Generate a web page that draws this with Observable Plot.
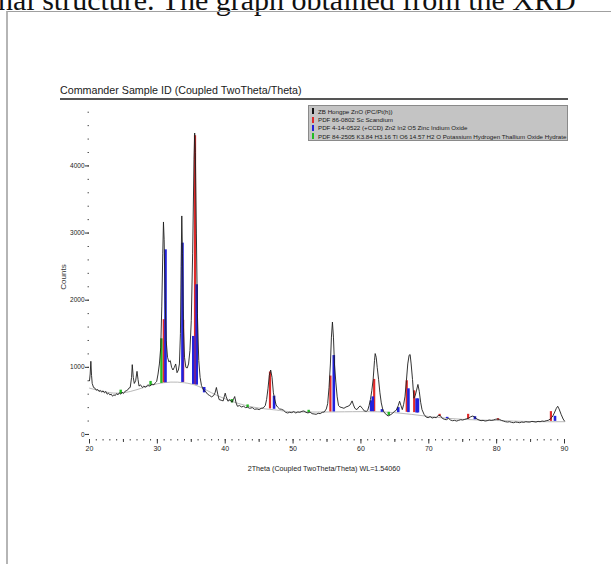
<!DOCTYPE html>
<html>
<head>
<meta charset="utf-8">
<script src="https://cdn.jsdelivr.net/npm/d3@7"></script>
<script src="https://cdn.jsdelivr.net/npm/@observablehq/plot@0.6"></script>
<style>
  html, body { margin: 0; padding: 0; background: #fff; }
  #page { position: relative; width: 611px; height: 564px; overflow: hidden; background: #fff; font-family: "Liberation Sans", Arial, sans-serif; }
  #doctext { position: absolute; left: -2px; top: -15px; font-family: "Liberation Serif", "Times New Roman", serif; font-size: 30px; line-height: 30px; color: #111; white-space: nowrap; }
  #frame { position: absolute; left: 6px; top: 11px; width: 620px; height: 600px; border-left: 2px solid #b5b5b5; border-top: 1px solid #a0a0a0; }
  #title { position: absolute; left: 60px; top: 84px; font-size: 10.7px; color: #1a1a1a; white-space: nowrap; }
  #rule { position: absolute; left: 60px; top: 98px; width: 508px; height: 2px; background: #555; }
  #chart { position: absolute; left: 0; top: 0; }
  #legend { position: absolute; left: 308px; top: 105px; width: 260px; height: 36px; background: #c4c4c4; border: 1px solid #8a8a8a; box-sizing: border-box; padding: 1px 0 0 3px; }
  .lg { display: flex; align-items: center; height: 8.4px; font-size: 6.2px; color: #1a1a1a; white-space: nowrap; overflow: hidden; }
  .lg i { display: inline-block; width: 2px; height: 6px; margin-right: 4px; }
  #xlabel { position: absolute; left: 0; width: 648px; top: 464px; text-align: center; font-size: 7.2px; color: #222; }
  #ylabel { position: absolute; left: 63px; top: 277px; font-size: 8px; color: #333; transform: translate(-50%, -50%) rotate(-90deg); white-space: nowrap; }
</style>
</head>
<body>
<div id="page">
  <div id="doctext">nal structure. The graph obtained from the XRD</div>
  <div id="frame"></div>
  <div id="chart"></div>
  <div id="title">Commander Sample ID (Coupled TwoTheta/Theta)</div>
  <div id="rule"></div>
  <div id="legend"></div>
  <div id="xlabel">2Theta (Coupled TwoTheta/Theta) WL=1.54060</div>
  <div id="ylabel">Counts</div>
</div>
<script>
// ---- data ----
const scanTheta = [20.0,20.1,20.2,20.3,20.4,20.6,20.8,21.0,21.2,21.4,21.6,21.8,22.0,22.2,22.4,22.6,22.8,23.0,23.2,23.4,23.6,23.8,24.0,24.2,24.4,24.6,24.8,25.0,25.2,25.4,25.6,25.8,26.0,26.2,26.3,26.45,26.6,26.8,27.0,27.15,27.3,27.5,27.8,28.0,28.3,28.6,28.9,29.2,29.5,29.7,29.9,30.1,30.3,30.5,30.65,30.8,30.9,31.0,31.15,31.3,31.5,31.7,31.9,32.1,32.3,32.5,32.7,32.9,33.1,33.25,33.4,33.5,33.6,33.7,33.85,34.0,34.2,34.4,34.6,34.8,35.0,35.2,35.4,35.5,35.6,35.75,35.9,36.1,36.3,36.5,36.8,37.1,37.4,37.7,38.0,38.3,38.5,38.7,38.9,39.1,39.4,39.7,39.85,40.0,40.15,40.4,40.7,41.0,41.2,41.4,41.6,41.8,42.1,42.4,42.7,43.0,43.3,43.6,44.0,44.3,44.7,45.0,45.3,45.6,45.9,46.1,46.3,46.5,46.7,46.9,47.1,47.3,47.5,47.7,48.0,48.3,48.6,48.9,49.2,49.5,49.8,50.1,50.4,50.7,51.0,51.3,51.6,51.9,52.2,52.5,52.8,53.1,53.4,53.7,54.0,54.3,54.6,54.9,55.1,55.3,55.5,55.65,55.8,55.95,56.1,56.3,56.5,56.7,56.9,57.2,57.5,57.8,58.1,58.4,58.7,58.9,59.1,59.4,59.7,59.9,60.2,60.5,60.8,61.0,61.2,61.4,61.6,61.8,62.0,62.1,62.25,62.4,62.6,62.8,63.0,63.2,63.4,63.7,64.0,64.3,64.6,64.9,65.2,65.5,65.7,65.9,66.1,66.3,66.5,66.7,66.9,67.1,67.25,67.4,67.6,67.8,68.0,68.2,68.4,68.6,68.8,69.0,69.3,69.6,69.9,70.2,70.5,70.8,71.1,71.4,71.7,72.0,72.3,72.6,72.9,73.2,73.5,73.8,74.1,74.4,74.7,75.0,75.3,75.6,75.9,76.2,76.5,76.8,77.1,77.4,77.7,78.0,78.3,78.6,78.9,79.2,79.5,79.8,80.1,80.4,80.7,81.0,81.3,81.6,81.9,82.2,82.5,82.8,83.1,83.4,83.7,84.0,84.3,84.6,84.9,85.2,85.5,85.8,86.1,86.4,86.7,87.0,87.3,87.6,87.9,88.2,88.5,88.8,89.0,89.2,89.5,89.8,90.0];
const scanCounts = [800,900,1090,880,760,700,690,660,670,640,655,630,650,620,640,600,615,590,600,570,590,580,610,590,620,600,630,610,640,650,660,690,700,850,1040,850,760,800,940,820,720,740,700,720,705,740,720,750,740,770,790,900,1050,1300,1900,2700,3165,2900,2000,1400,1150,1080,1100,1000,960,1000,1050,920,960,1050,1500,2500,3255,2700,1600,1150,1000,990,1050,1250,1700,2700,4100,4490,4200,3000,1800,1100,850,730,660,640,600,580,560,580,620,700,600,520,510,500,560,615,560,495,520,480,520,565,470,420,430,410,420,400,405,390,400,375,380,370,390,395,430,520,680,880,960,850,620,520,440,410,380,375,360,330,320,330,325,340,320,335,330,345,350,330,320,335,310,305,300,315,310,330,335,380,460,700,1050,1450,1675,1450,1050,780,560,430,410,400,390,410,420,440,500,440,390,370,410,425,390,350,345,360,430,520,650,820,1100,1205,1150,1000,820,620,470,380,330,300,275,290,310,340,360,430,495,430,370,450,570,800,1050,1180,1190,1050,820,540,580,660,745,640,480,370,300,260,250,265,245,255,250,285,280,240,225,220,240,215,205,210,200,210,220,215,225,235,245,265,275,255,230,215,205,210,200,205,215,210,215,225,230,225,210,200,190,185,190,180,175,185,180,175,185,180,190,185,185,195,190,185,195,190,200,195,205,210,230,260,320,390,420,380,300,230,200];

const bgTheta  = [20, 22, 24, 26, 28, 30, 32, 34, 36, 38, 40, 42, 44, 46, 48, 50, 55, 60, 65, 70, 75, 80, 85, 90];
const bgCounts = [690, 640, 615, 640, 700, 755, 780, 770, 720, 620, 530, 460, 410, 380, 358, 338, 335, 340, 325, 268, 225, 208, 192, 190];

// reference patterns: position, base (background) and top counts
const redPos   = [30.95, 33.8, 35.55, 46.6, 55.5, 61.95, 66.75, 67.85, 71.6, 75.8, 80.2, 88.0];
const redBase  = [770, 775, 740, 380, 335, 340, 330, 325, 265, 225, 210, 195];
const redTop   = [1710, 1700, 4450, 930, 870, 820, 800, 650, 300, 300, 235, 340];

const bluePos  = [31.2, 33.7, 35.3, 35.8, 36.9, 47.2, 56.0, 61.5, 61.75, 63.1, 65.5, 67.0, 68.2, 68.4, 72.7, 76.8, 88.6];
const blueBase = [770, 775, 745, 735, 620, 375, 335, 340, 340, 330, 325, 325, 320, 320, 235, 220, 195];
const blueTop  = [2750, 2850, 1460, 2230, 700, 570, 1175, 500, 560, 370, 400, 680, 530, 530, 255, 265, 270];

const greenPos  = [24.6, 29.0, 30.6, 41.0, 43.3, 52.3, 64.1];
const greenBase = [600, 730, 760, 470, 400, 325, 280];
const greenTop  = [660, 790, 1425, 520, 440, 360, 330];

const legendNames = [
  "ZB Hongpe ZnO (PC/Pt(h))",
  "PDF 86-0802 Sc Scandium",
  "PDF 4-14-0522 (+CCD) Zn2 In2 O5 Zinc Indium Oxide",
  "PDF 84-2505 K3.84 H3.16 Tl O6 14.57 H2 O Potassium Hydrogen Thallium Oxide Hydrate"
];
const legendColors = ["#111111", "#e02a2a", "#2222dd", "#22bb22"];

const yMajor = [0, 1000, 2000, 3000, 4000];
const xMajor = [20, 30, 40, 50, 60, 70, 80, 90];

// ---- build tables ----
const scan = scanTheta.map((t, i) => ({t, c: scanCounts[i]}));
const bg = bgTheta.map((t, i) => ({t, c: bgCounts[i]}));
const mk = (pos, base, top) => pos.map((t, i) => ({t, b: base[i], c: top[i]}));
const red = mk(redPos, redBase, redTop);
const blue = mk(bluePos, blueBase, blueTop);
const green = mk(greenPos, greenBase, greenTop);

const chart = Plot.plot({
  width: 611,
  height: 500,
  marginLeft: 89,
  marginRight: 47,
  marginTop: 105,
  marginBottom: 61,
  x: {domain: [20, 90]},
  y: {domain: [-75, 4900]},
  style: {fontFamily: "'Liberation Sans', Arial, sans-serif", background: "transparent", color: "#222"},
  marks: [
    Plot.axisX(d3.range(20, 91, 1), {tickSize: 1.5, text: null, label: null, stroke: "#444"}),
    Plot.axisX(d3.range(25, 90, 10), {tickSize: 3, text: null, label: null, stroke: "#444"}),
    Plot.axisX(xMajor, {tickSize: 4.5, tickPadding: 2, fontSize: 7, label: null, stroke: "#333", tickFormat: d => String(d)}),
    Plot.axisY(d3.range(0, 4801, 200), {tickSize: 1.5, text: null, label: null, stroke: "#555"}),
    Plot.axisY(yMajor, {tickSize: 4, tickPadding: 1, fontSize: 6.5, label: null, stroke: "#333", tickFormat: d => String(d)}),
    Plot.line(bg, {x: "t", y: "c", stroke: "#b0b0b0", strokeWidth: 0.9, curve: "natural"}),
    Plot.ruleX(green, {x: "t", y1: "b", y2: "c", stroke: "#22bb22", strokeWidth: 2.4}),
    Plot.ruleX(red, {x: "t", y1: "b", y2: "c", stroke: "#e02a2a", strokeWidth: 2.2}),
    Plot.ruleX(blue, {x: "t", y1: "b", y2: "c", stroke: "#2222dd", strokeWidth: 2.6}),
    Plot.line(scan, {x: "t", y: "c", stroke: "#1e1e1e", strokeWidth: 0.9})
  ]
});
document.getElementById("chart").appendChild(chart);

const lg = document.getElementById("legend");
legendNames.forEach((n, i) => {
  const row = document.createElement("div");
  row.className = "lg";
  const sw = document.createElement("i");
  sw.style.background = legendColors[i];
  row.appendChild(sw);
  row.appendChild(document.createTextNode(n));
  lg.appendChild(row);
});
</script>
</body>
</html>
